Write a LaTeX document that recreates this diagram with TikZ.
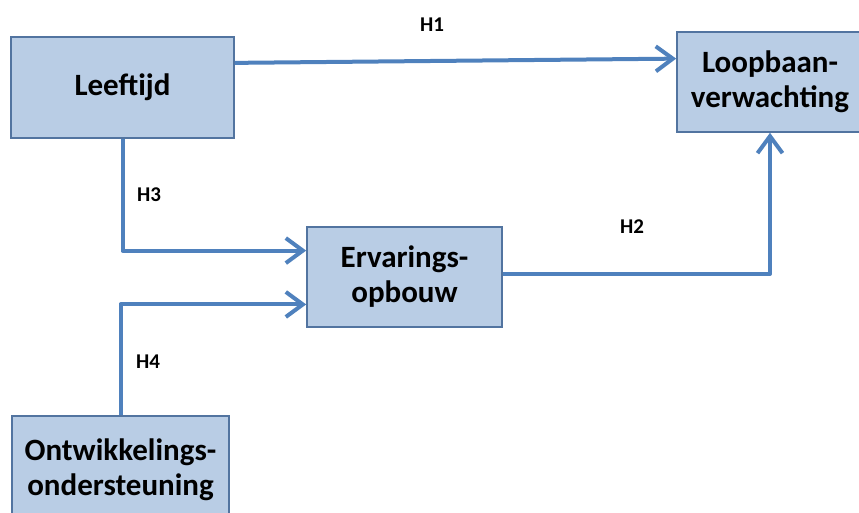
\documentclass[tikz,border=0pt]{standalone}
\usepackage{fontspec}
\setmainfont{Carlito}
\usetikzlibrary{arrows.meta,calc}
\definecolor{boxfill}{RGB}{185,205,229}
\definecolor{boxline}{RGB}{82,116,160}
\definecolor{arrowc}{RGB}{79,129,189}
\begin{document}
\begin{tikzpicture}[x=1pt,y=-1pt,
  box/.style={draw=boxline, line width=1.6pt, fill=boxfill, align=center,
    font=\bfseries\fontsize{31}{35}\selectfont, inner sep=0pt},
  conn/.style={draw=arrowc, line width=4pt, line join=round,
    -{Straight Barb[length=17pt,width=25pt]}},
  lab/.style={font=\bfseries\fontsize{21}{24}\selectfont, inner sep=0pt}]
\useasboundingbox (0,0) rectangle (859,512);
\node[box, minimum width=223pt, minimum height=101pt] (lee) at (122.5,87.5) {Leeftijd};
\node[box, minimum width=186pt, minimum height=100pt] (loop) at (770,82) {Loopbaan-\\verwachting};
\node[box, minimum width=195pt, minimum height=100pt] (erv) at (404.5,277) {Ervarings-\\opbouw};
\node[box, minimum width=217pt, minimum height=108pt] (ont) at (120.5,470) {Ontwikkelings-\\ondersteuning};
\draw[conn] ($(lee.north east)!0.26!(lee.south east)$) -- ($(loop.north west)!0.27!(loop.south west)$);
\draw[conn] (lee.south) |- ($(erv.north west)!0.24!(erv.south west)$);
\draw[conn] (ont.north) |- ($(erv.north west)!0.77!(erv.south west)$);
\draw[conn] ($(erv.north east)!0.47!(erv.south east)$) -| (loop.south);
\node[lab] (h1) at (432,25) {H1};
\node[lab] (h3) at (149,195) {H3};
\node[lab] (h2) at (632,227) {H2};
\node[lab] (h4) at (148,362) {H4};
\end{tikzpicture}
\end{document}
